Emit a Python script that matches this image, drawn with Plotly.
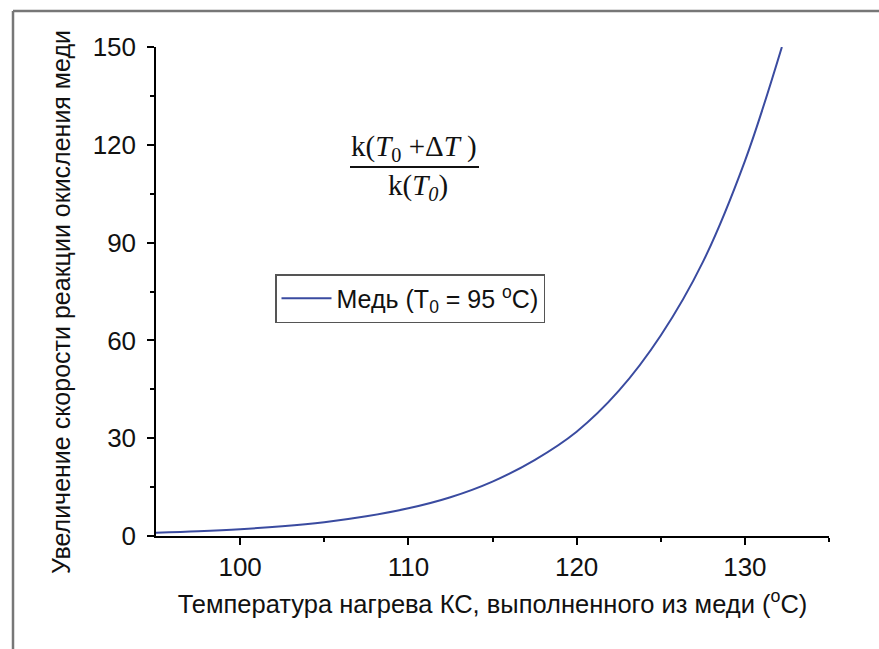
import plotly.graph_objects as go

# Data
temperature = [95, 97.5, 100, 102.5, 105, 107.5, 110, 112.5, 115, 117.5, 120, 122.5, 125, 127.5, 130, 132.2]
rate_ratio = [1.0, 1.45, 2.08, 2.98, 4.24, 6.05, 8.5, 11.9, 16.7, 23.3, 32.0, 44.5, 61.5, 84.0, 115.0, 150.0]

x_ticks = [100, 110, 120, 130]
y_ticks = [0, 30, 60, 90, 120, 150]

L, R, T, B = 156, 50, 47, 113
W, H = 879, 649
pw, ph = W - L - R, H - T - B

def px(x):
    return (x - L) / pw

def py(y):
    return (H - B - y) / ph

fig = go.Figure()
fig.add_trace(go.Scatter(
    x=temperature, y=rate_ratio, mode="lines", line_shape="spline",
    line=dict(color="#3A4BA0", width=2),
    name="Медь (T<sub>0</sub> = 95 <sup>o</sup>C)",
))

font = "Liberation Sans, Arial, sans-serif"
fig.update_layout(
    width=W, height=H,
    margin=dict(l=L, r=R, t=T, b=B),
    paper_bgcolor="white", plot_bgcolor="white",
    font=dict(family=font, size=26, color="#111"),
    showlegend=True,
    legend=dict(x=px(275), y=py(274), xanchor="left", yanchor="top",
                bordercolor="#555", borderwidth=1.5, bgcolor="white",
                font=dict(family=font, size=25, color="#111"), itemwidth=50, tracegroupgap=0),
    xaxis=dict(range=[95, 135], tickvals=x_ticks, ticks="outside", ticklen=7,
               tickwidth=1.5, tickcolor="black", showline=True, linecolor="black",
               linewidth=1.5, showgrid=False, zeroline=False,
               minor=dict(tickvals=[105, 115, 125, 135], ticks="outside", ticklen=4,
                          tickcolor="black", tickwidth=1.5),
               title=dict(text="Температура нагрева КС, выполненного из меди (<sup>o</sup>C)",
                          font=dict(family=font, size=25.5, color="#111"), standoff=14),
               tickfont=dict(family=font, size=26, color="#111")),
    yaxis=dict(range=[0, 150], tickvals=y_ticks, ticks="outside", ticklen=7,
               tickwidth=1.5, tickcolor="black", showline=True, linecolor="black",
               linewidth=1.5, showgrid=False, zeroline=False, ticklabelstandoff=6,
               minor=dict(tickvals=[15, 45, 75, 105, 135], ticks="outside", ticklen=4,
                          tickcolor="black", tickwidth=1.5),
               tickfont=dict(family=font, size=26, color="#111")),
)

# y-axis title placed as rotated text
fig.add_annotation(xref="paper", yref="paper", x=px(61), y=py(302),
                   xanchor="center", yanchor="middle", textangle=-90,
                   text="Увеличение скорости реакции окисления меди", showarrow=False,
                   font=dict(family=font, size=25, color="#111"))

serif = "Liberation Serif, Times New Roman, serif"
fig.add_annotation(xref="paper", yref="paper", x=px(414), y=py(148),
                   xanchor="center", yanchor="middle",
                   text="k(<i>T</i><sub>0</sub> +Δ<i>T</i> )", showarrow=False,
                   font=dict(family=serif, size=29, color="#111"))
fig.add_annotation(xref="paper", yref="paper", x=px(418), y=py(187),
                   xanchor="center", yanchor="middle",
                   text="k(<i>T<sub>0</sub></i>)", showarrow=False,
                   font=dict(family=serif, size=29, color="#111"))
fig.add_shape(type="line", xref="paper", yref="paper",
              x0=px(350), x1=px(479), y0=py(167), y1=py(167),
              line=dict(color="#111", width=2))

# outer frame (top and left edges visible)
fig.add_shape(type="line", xref="paper", yref="paper",
              x0=px(13), x1=px(W), y0=py(11), y1=py(11),
              line=dict(color="#777", width=2.5))
fig.add_shape(type="line", xref="paper", yref="paper",
              x0=px(13), x1=px(13), y0=py(11), y1=py(H),
              line=dict(color="#777", width=2.5))

fig.write_html("out.html")
